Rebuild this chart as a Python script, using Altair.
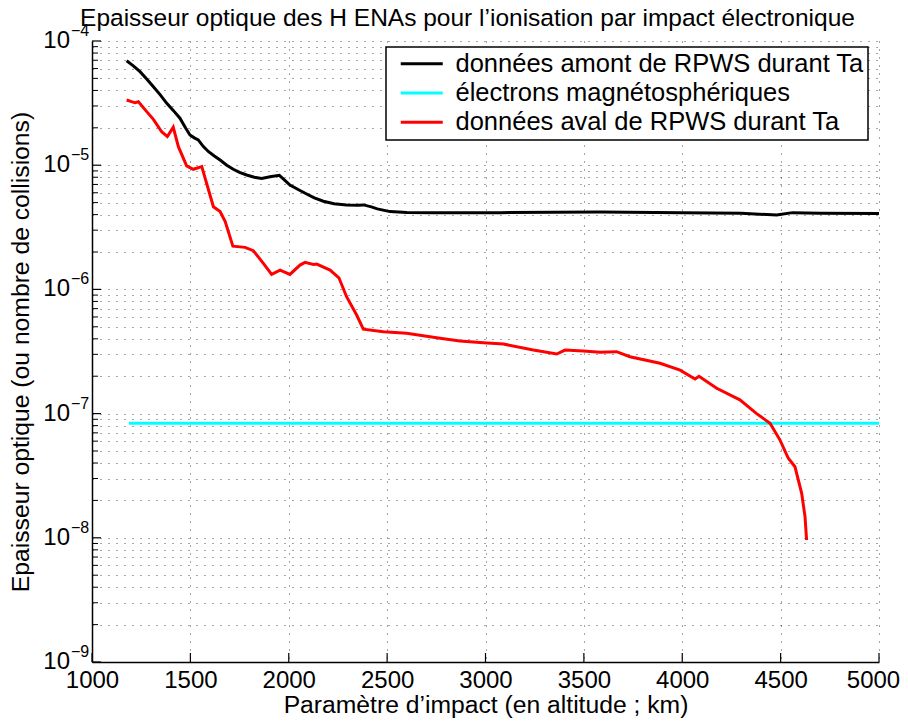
import altair as alt
import pandas as pd

# ---------------- data ----------------
series_names = [
    "données amont de RPWS durant Ta",
    "électrons magnétosphériques",
    "données aval de RPWS durant Ta",
]
series_colors = ["#000000", "#00ffff", "#ff0000"]

x_black = [1176, 1210, 1244, 1278, 1312, 1346, 1380, 1414, 1447, 1475, 1498, 1520,
           1540, 1565, 1591, 1620, 1651, 1685, 1718, 1750, 1786, 1825, 1862, 1905,
           1952, 1975, 2006, 2050, 2091, 2130, 2176, 2230, 2294, 2350, 2380, 2420,
           2450, 2515, 2600, 2735, 3074, 3582, 4000, 4300, 4480, 4560, 4700, 5000]
y_black = [6.93e-5, 6.30e-5, 5.66e-5, 4.95e-5, 4.29e-5, 3.70e-5, 3.15e-5, 2.75e-5,
           2.39e-5, 2.00e-5, 1.75e-5, 1.66e-5, 1.60e-5, 1.42e-5, 1.29e-5, 1.19e-5,
           1.10e-5, 1.00e-5, 9.27e-6, 8.75e-6, 8.34e-6, 8.00e-6, 7.83e-6, 8.07e-6,
           8.28e-6, 7.70e-6, 6.93e-6, 6.35e-6, 5.86e-6, 5.45e-6, 5.13e-6, 4.90e-6,
           4.79e-6, 4.75e-6, 4.79e-6, 4.62e-6, 4.45e-6, 4.23e-6, 4.17e-6, 4.15e-6,
           4.15e-6, 4.20e-6, 4.15e-6, 4.10e-6, 3.97e-6, 4.15e-6, 4.10e-6, 4.08e-6]

x_cyan = [1188, 5000]
y_cyan = [8.35e-8, 8.35e-8]

x_red = [1176, 1219, 1236, 1278, 1312, 1354, 1383, 1413, 1439, 1481, 1515, 1558,
         1617, 1651, 1677, 1716, 1778, 1820, 1871, 1913, 1956, 2006, 2057, 2083,
         2125, 2142, 2210, 2255, 2294, 2345, 2379, 2481, 2599, 2769, 2870, 2989,
         3091, 3243, 3362, 3404, 3497, 3582, 3666, 3734, 3887, 3989, 4065, 4085,
         4175, 4293, 4378, 4446, 4497, 4539, 4573, 4607, 4624, 4632]
y_red = [3.35e-5, 3.18e-5, 3.24e-5, 2.70e-5, 2.34e-5, 1.86e-5, 1.70e-5, 2.02e-5,
         1.41e-5, 9.86e-6, 9.27e-6, 9.73e-6, 4.63e-6, 4.23e-6, 3.51e-6, 2.23e-6,
         2.18e-6, 2.05e-6, 1.62e-6, 1.32e-6, 1.43e-6, 1.32e-6, 1.57e-6, 1.65e-6,
         1.59e-6, 1.60e-6, 1.43e-6, 1.24e-6, 8.73e-7, 6.22e-7, 4.78e-7, 4.56e-7,
         4.43e-7, 4.04e-7, 3.85e-7, 3.72e-7, 3.63e-7, 3.25e-7, 3.02e-7, 3.25e-7,
         3.19e-7, 3.12e-7, 3.15e-7, 2.87e-7, 2.54e-7, 2.24e-7, 1.90e-7, 2.00e-7,
         1.60e-7, 1.29e-7, 1.00e-7, 8.36e-8, 6.12e-8, 4.37e-8, 3.73e-8, 2.28e-8,
         1.48e-8, 9.6e-9]

x_ticks = [1000, 1500, 2000, 2500, 3000, 3500, 4000, 4500, 5000]
decades = [-9, -8, -7, -6, -5, -4]

title_text = "Epaisseur optique des H ENAs pour l’ionisation par impact électronique"
x_title = "Paramètre d’impact (en altitude ; km)"
y_title = "Epaisseur optique (ou nombre de collisions)"

# ---------------- tables ----------------
rows = []
for name, xs, ys in zip(series_names, [x_black, x_cyan, x_red], [y_black, y_cyan, y_red]):
    for i, (a, b) in enumerate(zip(xs, ys)):
        rows.append({"serie": name, "x": a, "y": b, "i": i})
df = pd.DataFrame(rows)

major_vals = [10.0 ** d for d in decades]
minor_vals = [m * 10.0 ** d for d in decades[:-1] for m in range(2, 10)]
all_y_grid = sorted(major_vals + minor_vals)

df_major = pd.DataFrame({"v": major_vals, "exp": ["−" + str(-d) for d in decades]})
df_minor = pd.DataFrame({"v": minor_vals})
df_xt = pd.DataFrame({"x": x_ticks})
df_title = pd.DataFrame({"t": [title_text]})

W, H = 787, 621
FONT = "Liberation Sans"
FS = 24
FT = 24.7

xscale = alt.Scale(domain=[1000, 5000], nice=False, zero=False)
yscale = alt.Scale(type="log", domain=[1e-9, 1e-4], nice=False)

lines = alt.Chart(df).mark_line(strokeWidth=3, clip=True).encode(
    x=alt.X("x:Q", scale=xscale, axis=alt.Axis(
        values=x_ticks, format="d", grid=True, gridDash=[1, 7], gridColor="#000000",
        gridOpacity=0.7, ticks=False, domain=True, domainColor="#000000", domainWidth=1.5,
        labelFontSize=FS, labelFont=FONT, labelColor="#000000", labelPadding=6,
        labelFlush=False, labelOverlap=False,
        labelOffset={"condition": {"test": "datum.value == 5000", "value": -6}, "value": 0},
        title=x_title, titleFontSize=FT, titleFont=FONT, titleFontWeight="normal",
        titleColor="#000000", titleX=393.5, titleY=50, titleBaseline="alphabetic",
        titleAlign="center")),
    y=alt.Y("y:Q", scale=yscale, axis=alt.Axis(
        values=all_y_grid, grid=True, gridDash=[1, 7], gridColor="#000000", gridOpacity=0.7,
        ticks=False, labels=False, domain=True, domainColor="#000000", domainWidth=1.5,
        title=y_title, titleFontSize=FT, titleFont=FONT, titleFontWeight="normal",
        titleColor="#000000", titleX=-64, titleY=310.5, titleAngle=-90,
        titleBaseline="alphabetic", titleAlign="center")),
    color=alt.Color("serie:N", scale=alt.Scale(domain=series_names, range=series_colors),
                    legend=alt.Legend(
                        title=None, orient="none", legendX=294, legendY=6,
                        direction="vertical", symbolType="M-3.5,0H3.5", symbolSize=144,
                        symbolStrokeWidth=3, labelFontSize=25.5, labelFont=FONT,
                        labelColor="#000000", labelLimit=700, labelOffset=21,
                        labelExpr="datum.label + ' '",
                        padding=4, rowPadding=2.3, symbolOffset=19,
                        strokeColor="#000000", fillColor="#ffffff")),
    order="i:Q",
)

xt = alt.Chart(df_xt).mark_rule(color="#000000", strokeWidth=1.2).encode(
    x=alt.X("x:Q", scale=xscale), y=alt.value(H), y2=alt.value(H - 9))
ymaj = alt.Chart(df_major).mark_rule(color="#000000", strokeWidth=1.2).encode(
    y=alt.Y("v:Q", scale=yscale), x=alt.value(0), x2=alt.value(9))
ymin = alt.Chart(df_minor).mark_rule(color="#000000", strokeWidth=1).encode(
    y=alt.Y("v:Q", scale=yscale), x=alt.value(0), x2=alt.value(6))

lab10 = alt.Chart(df_major).mark_text(
    align="right", baseline="middle", fontSize=FS, font=FONT, color="#000000").encode(
    y=alt.Y("v:Q", scale=yscale), x=alt.value(-22), text=alt.value("10"))
labexp = alt.Chart(df_major).mark_text(
    align="left", baseline="middle", fontSize=16, font=FONT, color="#000000", dy=-10).encode(
    y=alt.Y("v:Q", scale=yscale), x=alt.value(-21), text="exp:N")

title_mark = alt.Chart(df_title).mark_text(
    align="center", baseline="alphabetic", fontSize=24.5, font=FONT, color="#000000").encode(
    x=alt.value(375.5), y=alt.value(-15), text="t:N")

chart = alt.layer(lines, xt, ymaj, ymin, lab10, labexp, title_mark).properties(
    width=W, height=H,
    padding={"left": 84, "top": 33, "right": 21, "bottom": 56},
    autosize=alt.AutoSizeParams(type="none"),
).configure_view(strokeWidth=0).configure_legend(strokeWidth=1.5)

chart.save("out.html", embed_options={"renderer": "svg", "actions": False})
